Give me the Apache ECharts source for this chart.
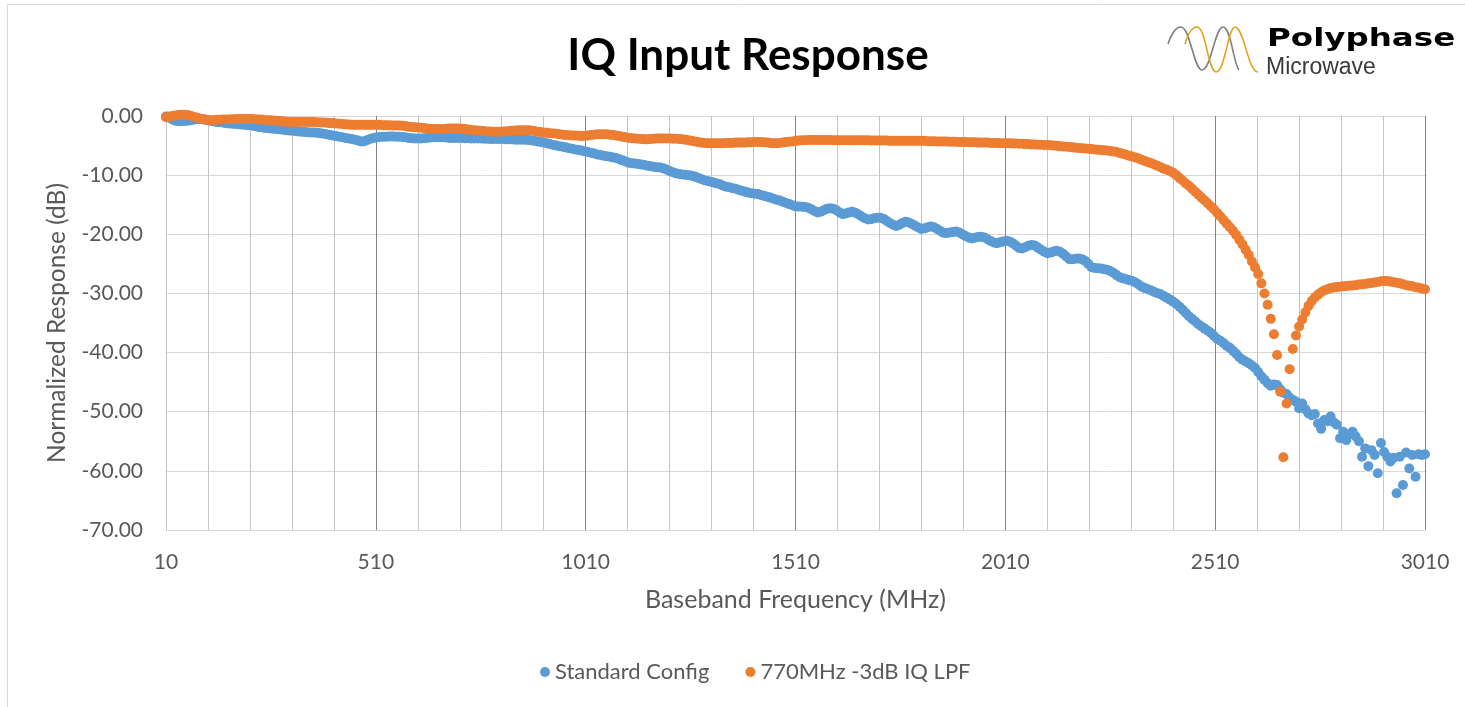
<!DOCTYPE html>
<html>
<head>
<meta charset="utf-8">
<script src="https://cdn.jsdelivr.net/npm/echarts@6/dist/echarts.min.js"></script>
<style>
html,body{margin:0;padding:0;background:#fff;}
#chart{width:1465px;height:707px;}
</style>
</head>
<body>
<div id="chart"></div>
<script>
// Sweep: 401 points, 10 MHz to 3010 MHz
const FREQ_START_MHZ = 10;
const FREQ_STEP_MHZ = 7.5;

const seriesNames = ['Standard Config', '770MHz -3dB IQ LPF'];

const standardConfig = [
-0.1,-0.3,-0.6,-0.8,-0.9,-0.9,-0.85,-0.8,-0.7,-0.6,
-0.55,-0.55,-0.6,-0.7,-0.8,-0.9,-1.0,-1.05,-1.1,-1.2,
-1.25,-1.3,-1.35,-1.4,-1.45,-1.5,-1.55,-1.6,-1.7,-1.8,
-1.9,-2.0,-2.05,-2.1,-2.15,-2.2,-2.25,-2.3,-2.4,-2.45,
-2.5,-2.55,-2.6,-2.65,-2.7,-2.75,-2.8,-2.8,-2.85,-2.9,
-3.0,-3.1,-3.2,-3.3,-3.4,-3.5,-3.6,-3.7,-3.8,-3.9,
-4.0,-4.15,-4.3,-4.25,-4.05,-3.85,-3.7,-3.6,-3.55,-3.5,
-3.5,-3.45,-3.45,-3.5,-3.5,-3.55,-3.6,-3.7,-3.75,-3.8,
-3.8,-3.8,-3.75,-3.7,-3.65,-3.6,-3.6,-3.6,-3.6,-3.65,
-3.7,-3.7,-3.7,-3.7,-3.7,-3.75,-3.75,-3.8,-3.8,-3.8,
-3.8,-3.85,-3.85,-3.9,-3.9,-3.9,-3.9,-3.9,-3.95,-3.95,
-3.95,-4.0,-4.0,-4.0,-4.0,-4.05,-4.1,-4.2,-4.3,-4.4,
-4.5,-4.6,-4.75,-4.9,-5.0,-5.1,-5.2,-5.3,-5.45,-5.55,
-5.65,-5.75,-5.85,-5.95,-6.1,-6.2,-6.35,-6.5,-6.6,-6.7,
-6.8,-6.9,-7.0,-7.1,-7.3,-7.5,-7.7,-7.9,-8.0,-8.05,
-8.1,-8.2,-8.3,-8.4,-8.5,-8.6,-8.65,-8.7,-8.85,-9.05,
-9.3,-9.5,-9.7,-9.8,-9.9,-9.95,-10.0,-10.1,-10.25,-10.45,
-10.65,-10.85,-11.0,-11.1,-11.25,-11.4,-11.55,-11.8,-11.95,-12.05,
-12.2,-12.3,-12.5,-12.65,-12.8,-12.95,-13.05,-13.15,-13.2,-13.35,
-13.5,-13.65,-13.8,-14.0,-14.15,-14.3,-14.5,-14.7,-14.9,-15.1,
-15.3,-15.3,-15.35,-15.4,-15.5,-15.75,-16.05,-16.3,-16.2,-15.95,
-15.7,-15.6,-15.7,-15.95,-16.3,-16.6,-16.5,-16.3,-16.2,-16.35,
-16.65,-17.0,-17.3,-17.5,-17.45,-17.3,-17.2,-17.2,-17.4,-17.75,
-18.1,-18.4,-18.6,-18.4,-18.1,-17.9,-18.0,-18.25,-18.55,-18.85,
-19.1,-19.0,-18.8,-18.7,-18.8,-19.1,-19.45,-19.75,-19.8,-19.7,
-19.6,-19.55,-19.7,-20.0,-20.3,-20.55,-20.7,-20.6,-20.45,-20.4,
-20.55,-20.85,-21.15,-21.4,-21.5,-21.35,-21.2,-21.1,-21.2,-21.5,
-21.9,-22.3,-22.4,-22.2,-21.95,-21.8,-21.9,-22.25,-22.6,-22.95,
-23.2,-23.1,-22.9,-22.8,-22.95,-23.3,-23.75,-24.2,-24.2,-24.15,
-24.1,-24.2,-24.5,-25.0,-25.55,-25.7,-25.75,-25.8,-25.9,-26.0,
-26.2,-26.5,-26.9,-27.25,-27.45,-27.6,-27.75,-27.9,-28.15,-28.5,
-28.85,-29.1,-29.3,-29.5,-29.75,-29.95,-30.15,-30.45,-30.75,-31.05,
-31.4,-31.8,-32.25,-32.75,-33.3,-33.85,-34.3,-34.75,-35.2,-35.6,
-35.95,-36.3,-36.7,-37.2,-37.7,-38.0,-38.4,-38.9,-39.2,-39.7,
-40.2,-40.8,-41.2,-41.5,-41.8,-42.2,-42.6,-43.3,-44.0,-44.6,
-45.2,-45.6,-45.4,-45.5,-46.2,-46.8,-47.0,-47.6,-48.0,-48.3,
-49.4,-48.6,-49.6,-50.3,-50.6,-50.4,-52.0,-52.9,-51.4,-51.6,
-50.8,-51.8,-52.2,-54.5,-53.4,-54.8,-53.8,-53.4,-54.2,-55.0,
-57.6,-56.2,-59.2,-56.5,-57.3,-60.4,-55.3,-56.8,-57.6,-58.4,
-57.8,-63.8,-57.6,-62.4,-56.9,-59.6,-57.3,-61.0,-57.2,-57.3,
-57.2
];

const lpf770 = [
-0.2,-0.1,0.0,0.1,0.15,0.2,0.2,0.15,0.0,-0.15,
-0.3,-0.45,-0.55,-0.65,-0.7,-0.7,-0.65,-0.65,-0.6,-0.6,
-0.6,-0.55,-0.55,-0.5,-0.5,-0.5,-0.5,-0.5,-0.55,-0.6,
-0.6,-0.65,-0.7,-0.7,-0.75,-0.8,-0.85,-0.9,-0.95,-1.0,
-1.0,-1.0,-1.0,-1.0,-1.0,-1.0,-1.0,-1.0,-1.05,-1.1,
-1.1,-1.15,-1.2,-1.2,-1.25,-1.3,-1.35,-1.4,-1.45,-1.5,
-1.5,-1.5,-1.5,-1.5,-1.5,-1.5,-1.5,-1.5,-1.5,-1.55,
-1.55,-1.55,-1.6,-1.6,-1.6,-1.65,-1.7,-1.8,-1.85,-1.9,
-1.95,-2.0,-2.05,-2.1,-2.15,-2.2,-2.2,-2.2,-2.2,-2.15,
-2.1,-2.1,-2.1,-2.1,-2.15,-2.2,-2.3,-2.35,-2.4,-2.45,
-2.5,-2.55,-2.6,-2.6,-2.65,-2.65,-2.65,-2.6,-2.6,-2.55,
-2.5,-2.45,-2.4,-2.4,-2.4,-2.4,-2.45,-2.55,-2.65,-2.7,
-2.8,-2.85,-2.9,-2.95,-3.0,-3.1,-3.15,-3.2,-3.25,-3.3,
-3.3,-3.35,-3.4,-3.35,-3.3,-3.2,-3.15,-3.1,-3.1,-3.1,
-3.1,-3.15,-3.2,-3.3,-3.4,-3.5,-3.6,-3.7,-3.75,-3.8,
-3.85,-3.9,-3.95,-3.95,-3.9,-3.85,-3.8,-3.8,-3.8,-3.8,
-3.8,-3.85,-3.85,-3.9,-3.95,-4.0,-4.1,-4.2,-4.3,-4.4,
-4.5,-4.55,-4.6,-4.6,-4.6,-4.6,-4.6,-4.6,-4.55,-4.55,
-4.55,-4.5,-4.5,-4.5,-4.5,-4.45,-4.45,-4.4,-4.4,-4.4,
-4.45,-4.5,-4.55,-4.6,-4.6,-4.55,-4.5,-4.4,-4.35,-4.3,
-4.2,-4.15,-4.1,-4.1,-4.05,-4.05,-4.05,-4.05,-4.05,-4.05,
-4.05,-4.05,-4.1,-4.1,-4.1,-4.1,-4.1,-4.1,-4.1,-4.1,
-4.1,-4.1,-4.1,-4.1,-4.15,-4.15,-4.15,-4.15,-4.15,-4.15,
-4.2,-4.2,-4.2,-4.2,-4.2,-4.2,-4.2,-4.2,-4.2,-4.2,
-4.2,-4.2,-4.25,-4.25,-4.25,-4.3,-4.3,-4.3,-4.3,-4.35,
-4.35,-4.35,-4.4,-4.4,-4.4,-4.45,-4.45,-4.45,-4.5,-4.5,
-4.5,-4.5,-4.55,-4.55,-4.55,-4.6,-4.6,-4.6,-4.6,-4.65,
-4.65,-4.7,-4.7,-4.75,-4.75,-4.8,-4.8,-4.85,-4.85,-4.9,
-4.9,-4.95,-5.0,-5.05,-5.1,-5.15,-5.2,-5.25,-5.3,-5.35,
-5.4,-5.45,-5.5,-5.55,-5.6,-5.65,-5.7,-5.75,-5.8,-5.85,
-5.9,-6.0,-6.1,-6.25,-6.4,-6.55,-6.7,-6.85,-7.0,-7.2,
-7.4,-7.6,-7.8,-8.0,-8.2,-8.4,-8.65,-8.9,-9.1,-9.35,
-9.6,-10.0,-10.5,-10.9,-11.4,-11.8,-12.3,-12.8,-13.3,-13.8,
-14.3,-14.8,-15.3,-15.8,-16.4,-17.0,-17.6,-18.2,-18.8,-19.4,
-20.1,-20.9,-21.7,-22.6,-23.5,-24.6,-25.6,-26.7,-28.3,-30.0,
-31.9,-34.3,-36.9,-40.4,-46.6,-57.7,-48.6,-42.8,-39.4,-37.1,
-35.6,-34.4,-33.2,-32.1,-31.3,-30.7,-30.2,-29.8,-29.5,-29.3,
-29.1,-29.0,-28.9,-28.85,-28.8,-28.75,-28.7,-28.65,-28.6,-28.5,
-28.45,-28.4,-28.3,-28.25,-28.15,-28.05,-27.95,-27.9,-27.9,-28.0,
-28.1,-28.2,-28.3,-28.45,-28.6,-28.7,-28.8,-28.95,-29.05,-29.15,
-29.3
];

const xTickLabels = [10, 510, 1010, 1510, 2010, 2510, 3010];
const xMajorGrid = [510, 1010, 1510, 2010, 2510, 3010];
const xMinorGrid = [10,110,210,310,410,610,710,810,910,1110,1210,1310,1410,
                    1610,1710,1810,1910,2110,2210,2310,2410,2610,2710,2810,2910];

const frequencies = standardConfig.map((_, i) => FREQ_START_MHZ + i * FREQ_STEP_MHZ);
const toPairs = vals => vals.map((v, i) => [frequencies[i], v]);

const FONT = 'Lato, "Open Sans", sans-serif';
const GREY_TXT = '#595959';

// logo wave segments: [x1,y1,cpx1,cpy1,cpx2,cpy2,x2,y2]
const logoGrey = [
  [1168,44,1171,34,1176,27,1181,27],
  [1181,27,1190,27,1194,70,1202,70],
  [1202,70,1211,70,1215,27,1223,27],
  [1223,27,1231,27,1234,66,1239,70]
];
const logoGold = [
  [1185,44,1188,34,1192,27,1197,27],
  [1197,27,1206,27,1208,72,1216,72],
  [1216,72,1225,72,1228,27,1235,27],
  [1235,27,1244,27,1248,72,1258,72]
];
const curveEls = (segs, color) => segs.map(s => ({
  type: 'bezierCurve',
  silent: true,
  shape: {x1: s[0], y1: s[1], cpx1: s[2], cpy1: s[3], cpx2: s[4], cpy2: s[5], x2: s[6], y2: s[7]},
  style: {fill: null, stroke: color, lineWidth: 1.6}
}));

const chart = echarts.init(document.getElementById('chart'), null, {renderer: 'canvas'});
chart.setOption({
  animation: false,
  backgroundColor: '#ffffff',
  title: {
    text: 'IQ Input Response',
    left: 743,
    top: 29,
    textAlign: 'center',
    textStyle: {fontFamily: FONT, fontWeight: 'bold', fontSize: 44, color: '#000000'}
  },
  legend: {
    data: seriesNames,
    left: 535,
    top: 656,
    icon: 'circle',
    itemWidth: 10,
    itemHeight: 10,
    itemGap: 36,
    textStyle: {fontFamily: FONT, fontSize: 22, color: GREY_TXT}
  },
  grid: {left: 166, right: 40, top: 116, bottom: 177, containLabel: false},
  xAxis: [
    {
      type: 'value',
      min: 10,
      max: 3010,
      name: 'Baseband Frequency (MHz)',
      nameLocation: 'middle',
      nameGap: 57,
      nameTextStyle: {fontFamily: FONT, fontSize: 25, color: GREY_TXT},
      axisLine: {show: true, onZero: false, lineStyle: {color: '#d9d9d9', width: 1}},
      axisTick: {show: false, customValues: xMajorGrid},
      axisLabel: {customValues: xTickLabels, margin: 22, fontFamily: FONT, fontSize: 21, color: GREY_TXT, formatter: v => String(v)},
      splitLine: {show: true, lineStyle: {color: '#858585', width: 1}}
    },
    {
      type: 'value',
      min: 10,
      max: 3010,
      position: 'bottom',
      axisLine: {show: false},
      axisTick: {show: false, customValues: xMinorGrid},
      axisLabel: {show: false},
      splitLine: {show: true, lineStyle: {color: '#c4c4c4', width: 1}}
    }
  ],
  yAxis: {
    type: 'value',
    min: -70,
    max: 0,
    interval: 10,
    name: 'Normalized Response (dB)',
    nameLocation: 'middle',
    nameGap: 96,
    nameTextStyle: {fontFamily: FONT, fontSize: 24.5, color: GREY_TXT},
    axisLine: {show: false},
    axisTick: {show: false},
    axisLabel: {margin: 23, fontFamily: FONT, fontSize: 21, color: GREY_TXT, formatter: v => v.toFixed(2)},
    splitLine: {show: true, lineStyle: {color: '#d9d9d9', width: 1}}
  },
  series: [
    {
      name: seriesNames[0],
      type: 'scatter',
      xAxisIndex: 0,
      clip: false,
      symbol: 'circle',
      symbolSize: 10,
      itemStyle: {color: '#5B9BD5', opacity: 1},
      data: toPairs(standardConfig),
      z: 3
    },
    {
      name: seriesNames[1],
      type: 'scatter',
      xAxisIndex: 0,
      clip: false,
      symbol: 'circle',
      symbolSize: 10,
      itemStyle: {color: '#ED7D31', opacity: 1},
      data: toPairs(lpf770),
      z: 4
    }
  ],
  graphic: [
    {
      type: 'rect',
      silent: true,
      shape: {x: 7.5, y: 4.5, width: 1480, height: 730},
      style: {fill: null, stroke: '#d9d9d9', lineWidth: 1},
      z: -10
    }
  ].concat(curveEls(logoGrey, '#7f7f7f'), curveEls(logoGold, '#E3A21A'), [
    {
      type: 'text',
      silent: true,
      x: 1267,
      y: 39,
      scaleX: 1.3,
      style: {text: 'Polyphase', font: 'bold 25px "DejaVu Sans"', fill: '#000000', textVerticalAlign: 'middle', textAlign: 'left'}
    },
    {
      type: 'text',
      silent: true,
      x: 1266,
      y: 68,
      style: {text: 'Microwave', font: '23px "Liberation Sans"', fill: '#3a3a3a', textVerticalAlign: 'middle', textAlign: 'left'}
    }
  ])
});
</script>
</body>
</html>
